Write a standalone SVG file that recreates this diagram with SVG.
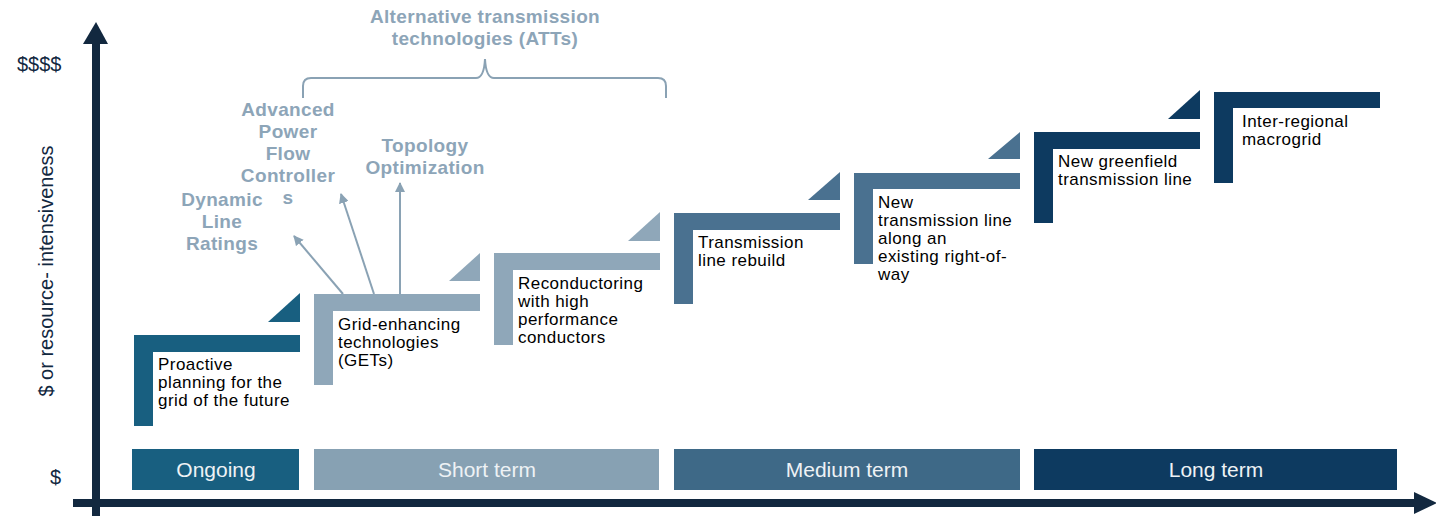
<svg xmlns="http://www.w3.org/2000/svg" width="1436" height="516" viewBox="0 0 1436 516">
  <style>
    .txt { font-family: "Liberation Sans", Arial, sans-serif; font-size: 17px; letter-spacing: 0.45px; fill: #000; }
    .att { font-family: "Liberation Sans", Arial, sans-serif; font-size: 19px; letter-spacing: 0.35px; font-weight: bold; fill: #8DA5B8; text-anchor: middle; }
    .phase { font-family: "Liberation Sans", Arial, sans-serif; font-size: 21px; fill: #EEF2F5; text-anchor: middle; }
    .axislbl { font-family: "Liberation Sans", Arial, sans-serif; font-size: 20px; fill: #12283F; }
    .c-ongoing { fill: #185F80; }
    .c-short { fill: #8FA7B9; }
    .c-short-box { fill: #87A1B3; }
    .c-medium { fill: #4A7190; }
    .c-medium-box { fill: #3E6987; }
    .c-long { fill: #0D3A60; }
    .link { stroke: #8AA2B4; stroke-width: 2; fill: none; }
  </style>
  <defs>
    <marker id="tip" viewBox="0 0 10 10" refX="9" refY="5" markerWidth="5" markerHeight="5" orient="auto" markerUnits="strokeWidth">
      <path d="M0,0 L10,5 L0,10 Z" fill="#8AA2B4"/>
    </marker>
  </defs>

  <rect width="1436" height="516" fill="#fff"/>

  <!-- axes -->
  <g id="axes" fill="#12283F">
    <rect x="92" y="40" width="8" height="476"/>
    <polygon points="83,44 96,22 108,44"/>
    <rect x="73" y="499" width="1343" height="8"/>
    <polygon points="1414,492 1437,503 1414,514"/>
    <text class="axislbl" x="17" y="71">$$$$</text>
    <text class="axislbl" x="50" y="484">$</text>
    <text class="axislbl" transform="translate(53,271) rotate(-90)" text-anchor="middle">$ or resource- intensiveness</text>
  </g>

  <!-- time horizon bands -->
  <g id="phase-ongoing">
    <rect class="c-ongoing" x="132" y="449" width="167" height="41"/>
    <text class="phase" x="216" y="477">Ongoing</text>
  </g>
  <g id="phase-short">
    <rect class="c-short-box" x="314" y="449" width="345" height="41"/>
    <text class="phase" x="487" y="477">Short term</text>
  </g>
  <g id="phase-medium">
    <rect class="c-medium-box" x="674" y="449" width="346" height="41"/>
    <text class="phase" x="847" y="477">Medium term</text>
  </g>
  <g id="phase-long">
    <rect class="c-long" x="1034" y="449" width="363" height="41"/>
    <text class="phase" x="1216" y="477">Long term</text>
  </g>

  <!-- ATT bracket and labels -->
  <g id="att-group">
    <path class="link" stroke-width="2.5" d="M303,98 V86 Q303,78 311,78 H476 Q484,78 485,59 Q486,78 494,78 H658 Q666,78 666,86 V98"/>
    <text class="att" x="485" y="23">Alternative transmission</text>
    <text class="att" x="485" y="45">technologies (ATTs)</text>
  </g>
  <g id="att-dlr">
    <text class="att" x="222" y="206">Dynamic</text>
    <text class="att" x="222" y="228">Line</text>
    <text class="att" x="222" y="250">Ratings</text>
  </g>
  <g id="att-apfc">
    <text class="att" x="288" y="116">Advanced</text>
    <text class="att" x="288" y="138">Power</text>
    <text class="att" x="288" y="160">Flow</text>
    <text class="att" x="288" y="182">Controller</text>
    <text class="att" x="288" y="204">s</text>
  </g>
  <g id="att-topo">
    <text class="att" x="425" y="152">Topology</text>
    <text class="att" x="425" y="174">Optimization</text>
  </g>

  <!-- connectors from GETs -->
  <g id="connectors">
    <line class="link" x1="343" y1="294" x2="294" y2="236" marker-end="url(#tip)"/>
    <line class="link" x1="374" y1="294" x2="341" y2="194" marker-end="url(#tip)"/>
    <line class="link" x1="400" y1="294" x2="400" y2="183" marker-end="url(#tip)"/>
  </g>

  <!-- steps -->
  <g id="step-proactive">
    <polygon class="c-ongoing" points="300,293 268,322 300,322"/>
    <path class="c-ongoing" d="M134,335 H300 V352 H153 V426 H134 Z"/>
    <text class="txt"><tspan x="158" y="370">Proactive</tspan><tspan x="158" y="388">planning for the</tspan><tspan x="158" y="406">grid of the future</tspan></text>
  </g>
  <g id="step-gets">
    <polygon class="c-short" points="480,253 449,281 480,281"/>
    <path class="c-short" d="M314,294 H480 V311 H333 V385 H314 Z"/>
    <text class="txt"><tspan x="338" y="330">Grid-enhancing</tspan><tspan x="338" y="348">technologies</tspan><tspan x="338" y="366">(GETs)</tspan></text>
  </g>
  <g id="step-reconductoring">
    <polygon class="c-short" points="660,212 628,241 660,241"/>
    <path class="c-short" d="M494,253 H660 V270 H513 V345 H494 Z"/>
    <text class="txt"><tspan x="518" y="289">Reconductoring</tspan><tspan x="518" y="307">with high</tspan><tspan x="518" y="325">performance</tspan><tspan x="518" y="343">conductors</tspan></text>
  </g>
  <g id="step-rebuild">
    <polygon class="c-medium" points="840,172 808,200 840,200"/>
    <path class="c-medium" d="M674,213 H840 V230 H693 V304 H674 Z"/>
    <text class="txt"><tspan x="698" y="248">Transmission</tspan><tspan x="698" y="266">line rebuild</tspan></text>
  </g>
  <g id="step-row">
    <polygon class="c-medium" points="1020,132 988,159 1020,159"/>
    <path class="c-medium" d="M854,173 H1020 V189 H873 V264 H854 Z"/>
    <text class="txt"><tspan x="878" y="208">New</tspan><tspan x="878" y="226">transmission line</tspan><tspan x="878" y="244">along an</tspan><tspan x="878" y="262">existing right-of-</tspan><tspan x="878" y="280">way</tspan></text>
  </g>
  <g id="step-greenfield">
    <polygon class="c-long" points="1200,90 1168,119 1200,119"/>
    <path class="c-long" d="M1034,132 H1200 V149 H1053 V223 H1034 Z"/>
    <text class="txt"><tspan x="1058" y="167">New greenfield</tspan><tspan x="1058" y="185">transmission line</tspan></text>
  </g>
  <g id="step-macrogrid">
    <path class="c-long" d="M1214,92 H1380 V108 H1233 V183 H1214 Z"/>
    <text class="txt"><tspan x="1242" y="127">Inter-regional</tspan><tspan x="1242" y="145">macrogrid</tspan></text>
  </g>
</svg>
